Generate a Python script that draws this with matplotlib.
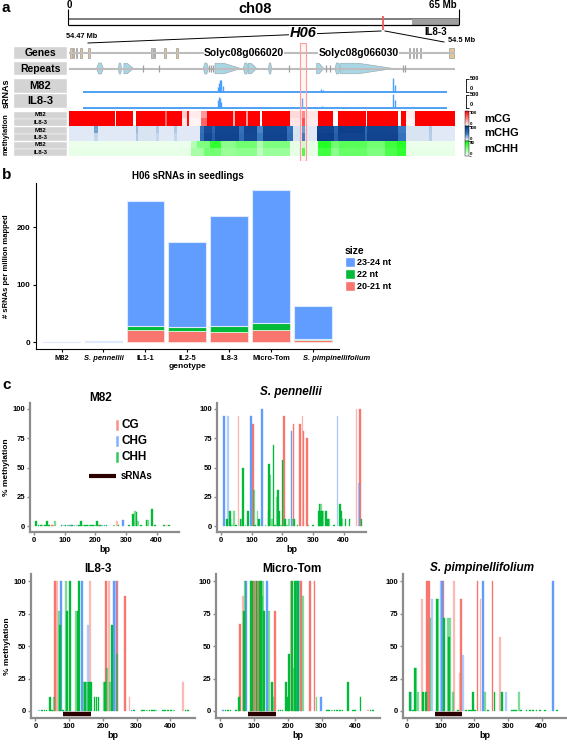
import numpy as np
import matplotlib
matplotlib.use("Agg")
import matplotlib.pyplot as plt
import matplotlib.transforms as mtransforms
from matplotlib.patches import Rectangle, Polygon, Patch
from matplotlib.colors import LinearSegmentedColormap

plt.rcParams['font.family'] = ['Liberation Sans', 'DejaVu Sans']
plt.rcParams['font.weight'] = 'bold'
plt.rcParams['axes.labelweight'] = 'bold'

W, H = 567, 744

# ---------------- panel a data ----------------
CHR_LEN = 65
H06_MB = 52.4
IL83_START_MB = 57.2
REGION_KB = 30
H06_KB = (17.95, 18.4)

# gene parts (start kb, end kb, kind)
GENE_PARTS = [(0.08, 0.20, 'exon'), (0.28, 0.40, 'exon'), (0.54, 0.66, 'exon'), (0.85, 0.99, 'exon'),
              (1.50, 1.62, 'exon'), (6.40, 6.50, 'utr'), (6.58, 6.68, 'utr'), (7.42, 7.54, 'exon'),
              (8.35, 8.50, 'exon'), (26.40, 26.50, 'utr'), (26.72, 26.82, 'utr'), (26.98, 27.08, 'utr'),
              (27.25, 27.35, 'utr'), (29.55, 29.95, 'exon')]
GENE_NAMES = [(13.6, 'Solyc08g066020'), (22.5, 'Solyc08g066030')]

# repeats (start kb, end kb, shape)
REPEATS = [(2.15, 2.67, 'both'), (3.83, 4.09, 'both'), (4.27, 5.0, 'right'), (5.73, 5.73, 'thin'),
           (7.02, 7.02, 'thin'), (10.44, 10.83, 'both'), (10.9, 10.9, 'thin'), (11.05, 11.05, 'thin'),
           (11.2, 11.2, 'thin'), (11.35, 13.34, 'right'), (13.55, 13.94, 'both'), (13.94, 14.59, 'right'),
           (15.5, 15.75, 'both'), (17.12, 17.12, 'thin'), (19.25, 19.8, 'right'), (20.0, 20.0, 'thin'),
           (20.3, 20.3, 'thin'), (20.67, 21.06, 'both'), (21.06, 25.2, 'right'), (25.98, 25.98, 'thin'),
           (26.15, 26.15, 'thin')]

# sRNA coverage peaks (kb, reads)
SRNA_SPAN = (1.1, 29.35)
SRNA_M82 = [(11.55, 184), (11.65, 342), (11.75, 447), (11.85, 474), (11.95, 237), (19.6, 130),
            (19.75, 80), (21.6, 50), (22.0, 40), (22.4, 55), (22.9, 45), (25.2, 540), (25.3, 276)]
SRNA_IL83 = [(11.55, 300), (11.65, 408), (11.75, 368), (11.85, 237), (18.1, 355), (19.7, 65),
             (21.6, 40), (22.2, 35), (22.9, 40), (25.2, 540), (25.3, 300)]

# methylation heatmap segments (start kb, end kb, %)
CG_M82 = [(0, 3.6, 100), (3.7, 5.0, 100), (5.2, 7.5, 100), (7.5, 7.6, 60), (7.6, 8.8, 100),
          (8.8, 9.2, 20), (9.2, 9.35, 95), (9.35, 10.3, 8), (10.3, 10.75, 40), (10.75, 12.8, 100),
          (12.8, 12.9, 30), (12.9, 13.8, 100), (13.8, 13.9, 40), (13.9, 14.85, 100), (15.0, 17.2, 100),
          (17.2, 18.1, 15), (18.1, 18.4, 50), (18.4, 19.4, 10), (19.4, 20.5, 100), (20.9, 23.1, 100),
          (23.2, 25.6, 100), (25.85, 26.2, 100), (26.2, 26.9, 8), (26.9, 30, 100)]
CG_IL83 = [(0, 3.6, 100), (3.7, 5.0, 100), (5.2, 7.5, 100), (7.5, 7.6, 60), (7.6, 8.8, 100),
           (8.8, 9.2, 10), (9.2, 9.35, 95), (9.35, 10.3, 5), (10.3, 10.75, 60), (10.75, 12.8, 100),
           (12.8, 12.9, 30), (12.9, 13.8, 100), (13.8, 13.9, 40), (13.9, 14.85, 100), (15.0, 17.2, 100),
           (17.2, 18.1, 10), (18.1, 18.4, 75), (18.4, 19.4, 8), (19.4, 20.5, 100), (20.9, 23.1, 100),
           (23.2, 25.6, 100), (25.85, 26.2, 100), (26.2, 26.9, 5), (26.9, 30, 100)]
CHG_M82 = [(0, 2.0, 8), (2.0, 2.3, 35), (2.3, 5.2, 8), (5.2, 5.4, 25), (5.4, 6.8, 10), (6.8, 7.0, 20),
           (7.0, 8.2, 8), (8.2, 8.4, 20), (8.4, 10.2, 8), (10.2, 10.5, 55), (10.5, 11.1, 85),
           (11.1, 11.4, 65), (11.4, 13.2, 90), (13.2, 13.6, 55), (13.6, 14.6, 90), (14.6, 15.1, 45),
           (15.1, 17.0, 90), (17.0, 17.4, 55), (17.4, 18.1, 10), (18.1, 18.4, 40), (18.4, 19.3, 8),
           (19.3, 20.6, 92), (20.6, 20.9, 65), (20.9, 23.0, 95), (23.0, 23.2, 60), (23.2, 25.6, 90),
           (25.6, 26.2, 50), (26.2, 28.0, 10), (28.0, 28.2, 20), (28.2, 30, 8)]
CHG_IL83 = [(0, 2.0, 8), (2.0, 2.3, 15), (2.3, 5.2, 8), (5.2, 5.4, 20), (5.4, 6.8, 10), (6.8, 7.0, 15),
            (7.0, 8.2, 8), (8.2, 8.4, 15), (8.4, 10.2, 8), (10.2, 10.5, 60), (10.5, 11.1, 90),
            (11.1, 11.4, 70), (11.4, 13.2, 92), (13.2, 13.6, 60), (13.6, 14.6, 88), (14.6, 15.1, 50),
            (15.1, 17.0, 92), (17.0, 17.4, 60), (17.4, 18.1, 10), (18.1, 18.4, 60), (18.4, 19.3, 8),
            (19.3, 20.6, 95), (20.6, 20.9, 70), (20.9, 23.0, 92), (23.0, 23.2, 65), (23.2, 25.6, 92),
            (25.6, 26.2, 55), (26.2, 28.0, 10), (28.0, 28.2, 18), (28.2, 30, 8)]
CHH_M82 = [(0, 9.5, 3), (9.5, 10.0, 12), (10.0, 11.0, 20), (11.0, 11.8, 32), (11.8, 13.0, 18),
           (13.0, 14.6, 22), (14.6, 15.1, 12), (15.1, 17.2, 20), (17.2, 18.1, 4), (18.1, 18.4, 8),
           (18.4, 19.4, 4), (19.4, 20.4, 34), (20.4, 21.0, 22), (21.0, 23.2, 26), (23.2, 24.6, 22),
           (24.6, 25.5, 30), (25.5, 26.2, 34), (26.2, 30, 3)]
CHH_IL83 = [(0, 9.5, 4), (9.5, 10.5, 14), (10.5, 11.8, 22), (11.8, 13.0, 16), (13.0, 14.6, 18),
            (14.6, 15.1, 10), (15.1, 17.2, 16), (17.2, 18.1, 4), (18.1, 18.4, 30), (18.4, 19.4, 4),
            (19.4, 20.4, 30), (20.4, 21.0, 18), (21.0, 23.2, 24), (23.2, 24.6, 20), (24.6, 25.5, 28),
            (25.5, 26.2, 32), (26.2, 30, 4)]

# ---------------- panel b data ----------------
GENOTYPES = ['M82', 'S. pennellii', 'IL1-1', 'IL2-5', 'IL8-3', 'Micro-Tom', 'S. pimpinellifolium']
NT_20_21 = [0, 0, 22, 20, 18, 21, 4]
NT_22 = [0, 0, 7, 7, 11, 12, 2]
NT_23_24 = [0, 1.5, 217, 147, 191, 232, 57]

# ---------------- panel c data ----------------
# (bp, % methylation, context, light replicate)
M82_METH = [(7, 4, 'CHH', 0), (15, 1, 'CHH', 0), (22, 1, 'CHH', 0), (28, 1, 'CHH', 1), (35, 1, 'CHH', 0),
            (43, 4, 'CHH', 0), (50, 1, 'CHH', 0), (58, 1, 'CG', 0), (62, 1, 'CG', 1), (68, 4, 'CHH', 1),
            (90, 1, 'CHH', 0), (97, 1, 'CHG', 1), (103, 1, 'CHH', 0), (110, 1, 'CHH', 1), (118, 1, 'CHG', 0),
            (125, 1, 'CHH', 0), (132, 1, 'CHH', 1), (140, 1, 'CHG', 1), (147, 1, 'CHH', 0), (153, 4, 'CHH', 0),
            (160, 1, 'CHH', 1), (167, 1, 'CHH', 0), (173, 1, 'CHH', 0), (180, 1, 'CHH', 1), (187, 1, 'CHH', 0),
            (193, 1, 'CHH', 0), (200, 1, 'CHH', 1), (205, 4, 'CHH', 0), (210, 1, 'CG', 0), (215, 1, 'CHH', 0),
            (222, 1, 'CHH', 1), (230, 1, 'CHG', 0), (237, 1, 'CHH', 0), (262, 1, 'CHH', 1), (270, 4, 'CG', 1),
            (276, 1, 'CHH', 0), (291, 5, 'CHG', 0), (310, 1, 'CHH', 0), (322, 10, 'CHH', 0), (330, 13, 'CHH', 1),
            (334, 12, 'CHH', 0), (340, 4, 'CHH', 1), (350, 1, 'CHH', 0), (367, 5, 'CHH', 0), (372, 5, 'CHH', 1),
            (386, 14.5, 'CHH', 0), (395, 1, 'CHH', 0), (425, 1, 'CHH', 0), (432, 1, 'CG', 1), (440, 1, 'CHH', 0)]
SPEN_METH = [(9, 94, 'CHG', 0), (19, 6.5, 'CHH', 0), (23, 94, 'CHG', 1), (29, 12.5, 'CHH', 0), (31, 6.5, 'CHH', 0),
             (36, 1, 'CHH', 1), (43, 12.5, 'CHH', 1), (50, 1, 'CHH', 0), (57, 94, 'CG', 1), (64, 6.5, 'CHH', 0),
             (67, 6.5, 'CHH', 1), (72, 50, 'CHH', 0), (80, 1, 'CHH', 1), (89, 12.5, 'CHH', 0), (98, 94, 'CHG', 0),
             (104, 87.5, 'CG', 0), (107, 31, 'CHH', 1), (112, 1, 'CHH', 0), (119, 12.5, 'CHH', 1),
             (124, 6.5, 'CHH', 0), (133, 100, 'CHG', 0), (145, 1, 'CHH', 1), (155, 12.5, 'CHH', 0),
             (157, 53, 'CHH', 0), (162, 44, 'CHH', 1), (166, 6.5, 'CHH', 1), (171, 69, 'CHH', 0),
             (177, 1, 'CHH', 0), (182, 25, 'CHH', 1), (185, 31, 'CHH', 0), (189, 12.5, 'CHH', 0),
             (195, 1, 'CHH', 1), (201, 56.5, 'CHH', 0), (206, 94, 'CG', 0), (209, 6.5, 'CHH', 0),
             (215, 1, 'CHH', 1), (222, 6.5, 'CHH', 1), (230, 81.5, 'CHG', 0), (234, 6.5, 'CHH', 1),
             (237, 87.5, 'CG', 0), (240, 6.5, 'CHH', 0), (250, 1, 'CHH', 0), (258, 87.5, 'CG', 0),
             (266, 94, 'CG', 1), (269, 81.5, 'CG', 0), (280, 75, 'CG', 0), (285, 1, 'CHH', 1), (300, 1, 'CHH', 0),
             (318, 12.5, 'CHH', 0), (321, 19, 'CHH', 0), (324, 12.5, 'CHH', 0), (327, 19, 'CHH', 1),
             (330, 12.5, 'CHH', 0), (333, 12.5, 'CHH', 1), (342, 12.5, 'CHH', 0), (348, 6.5, 'CHH', 0),
             (353, 6.5, 'CHH', 1), (368, 1, 'CHH', 0), (380, 94, 'CHG', 1), (389, 19, 'CHH', 0),
             (392, 12.5, 'CHH', 0), (395, 6.5, 'CHH', 1), (406, 6.5, 'CHH', 0), (419, 6.5, 'CHH', 0),
             (442, 100, 'CG', 1), (451, 37, 'CHG', 1), (454, 100, 'CG', 0), (458, 6.5, 'CHH', 0)]
IL83_METH = [(10, 1, 'CHG', 1), (20, 1, 'CHH', 0), (27, 1, 'CHH', 0), (33, 1, 'CHH', 0), (44, 11, 'CHH', 0),
             (49, 1, 'CHH', 0), (55, 11, 'CHH', 1), (57, 100, 'CG', 0), (65, 100, 'CG', 1), (69, 77, 'CHH', 1),
             (72, 66.5, 'CHH', 0), (76, 100, 'CHG', 0), (81, 1, 'CHH', 0), (90, 100, 'CHH', 1), (94, 77, 'CHH', 0),
             (102, 100, 'CHH', 0), (121, 77, 'CHH', 1), (125, 77, 'CHH', 0), (130, 100, 'CHH', 0),
             (137, 100, 'CHG', 0), (143, 22, 'CHH', 1), (147, 22, 'CHH', 0), (153, 22, 'CHH', 1),
             (156, 66.5, 'CHG', 1), (158, 22, 'CHH', 0), (162, 100, 'CG', 1), (165, 22, 'CHH', 0),
             (175, 11, 'CHH', 0), (181, 11, 'CHH', 0), (187, 11, 'CHH', 0), (203, 22, 'CHH', 1),
             (206, 22, 'CHH', 0), (210, 100, 'CG', 0), (213, 33, 'CHH', 1), (218, 100, 'CG', 1),
             (222, 22, 'CHH', 1), (227, 66.5, 'CHH', 0), (234, 100, 'CHG', 0), (238, 100, 'CHG', 1),
             (241, 100, 'CG', 0), (243, 44, 'CHH', 1), (266, 89, 'CG', 0), (279, 11, 'CG', 1), (285, 1, 'CHG', 0),
             (292, 1, 'CHH', 0), (315, 1, 'CHH', 0), (322, 1, 'CHH', 0), (330, 1, 'CHH', 1), (338, 1, 'CHH', 0),
             (345, 1, 'CHH', 0), (352, 1, 'CHH', 0), (358, 1, 'CHH', 1), (378, 1, 'CHH', 0), (385, 1, 'CHH', 0),
             (393, 1, 'CHH', 0), (402, 1, 'CHH', 0), (412, 1, 'CHH', 1), (438, 22, 'CG', 1), (445, 1, 'CHH', 0),
             (452, 1, 'CHH', 0)]
MT_METH = [(8, 1, 'CHG', 0), (15, 1, 'CHH', 0), (22, 1, 'CHH', 0), (30, 1, 'CHH', 0), (45, 1, 'CHH', 0),
           (56, 11, 'CHH', 0), (58, 67, 'CG', 0), (66, 89, 'CG', 1), (71, 77, 'CHH', 0), (72, 100, 'CHH', 1),
           (76, 100, 'CHG', 0), (90, 100, 'CHH', 0), (94, 100, 'CHH', 0), (100, 100, 'CG', 0), (104, 100, 'CHH', 1),
           (107, 100, 'CHH', 0), (111, 100, 'CG', 0), (117, 100, 'CHH', 0), (121, 100, 'CHH', 0),
           (123, 89, 'CHH', 1), (127, 100, 'CHH', 1), (130, 77, 'CHH', 0), (138, 100, 'CHG', 0),
           (144, 77, 'CHH', 1), (154, 22, 'CHH', 0), (157, 11, 'CHH', 1), (162, 77, 'CG', 0), (172, 1, 'CHH', 0),
           (178, 1, 'CHH', 0), (184, 1, 'CHH', 0), (194, 22, 'CHH', 0), (201, 11, 'CHH', 0), (204, 44, 'CHH', 0),
           (210, 100, 'CG', 1), (213, 100, 'CHH', 0), (217, 33, 'CHH', 1), (222, 100, 'CHH', 0),
           (225, 100, 'CHH', 1), (228, 100, 'CHG', 0), (231, 100, 'CHH', 0), (234, 100, 'CHG', 1),
           (239, 100, 'CG', 0), (244, 89, 'CHH', 1), (266, 100, 'CG', 0), (279, 100, 'CG', 0), (285, 11, 'CHH', 1),
           (297, 11, 'CHG', 0), (315, 1, 'CHH', 0), (322, 1, 'CHH', 0), (330, 1, 'CHH', 1), (338, 1, 'CHH', 0),
           (346, 1, 'CHH', 0), (354, 1, 'CHH', 0), (362, 1, 'CHH', 0), (378, 22, 'CHH', 0), (392, 1, 'CHH', 0),
           (400, 1, 'CHH', 0), (415, 11, 'CHH', 0), (437, 1, 'CG', 1), (445, 1, 'CHH', 0), (452, 1, 'CHH', 0)]
SPIMP_METH = [(7, 14.3, 'CHH', 0), (10, 14.3, 'CHG', 1), (17, 1, 'CHH', 0), (23, 33.5, 'CHH', 0),
              (27, 33.5, 'CHH', 1), (31, 14.3, 'CHH', 1), (43, 86, 'CG', 1), (47, 14.3, 'CHH', 0),
              (55, 14.3, 'CHH', 0), (58, 100, 'CG', 0), (65, 100, 'CG', 0), (69, 71.5, 'CHH', 1),
              (73, 86, 'CHG', 1), (88, 86, 'CHH', 0), (91, 86, 'CHH', 1), (101, 100, 'CHG', 1),
              (103, 100, 'CHG', 0), (106, 100, 'CG', 0), (109, 71.5, 'CHH', 0), (121, 71.5, 'CHH', 1),
              (124, 57, 'CHH', 0), (127, 71.5, 'CHH', 1), (135, 14.3, 'CHH', 1), (138, 100, 'CG', 1),
              (150, 1, 'CHH', 0), (156, 29, 'CG', 1), (161, 86, 'CG', 0), (166, 43, 'CHG', 1), (176, 1, 'CHH', 0),
              (183, 1, 'CHH', 0), (190, 1, 'CHH', 0), (195, 14.3, 'CHH', 0), (202, 1, 'CHH', 0),
              (209, 100, 'CG', 0), (218, 86, 'CG', 1), (225, 100, 'CHG', 0), (231, 14.3, 'CHH', 1),
              (240, 1, 'CHH', 0), (254, 100, 'CG', 0), (260, 14.3, 'CHH', 0), (276, 57, 'CG', 1),
              (281, 14.3, 'CHH', 0), (293, 14.3, 'CHG', 1), (312, 1, 'CHH', 0), (318, 1, 'CHH', 0),
              (325, 1, 'CHH', 0), (332, 14.3, 'CHH', 1), (340, 1, 'CHH', 0), (355, 1, 'CHH', 0),
              (365, 1, 'CHH', 0), (375, 1, 'CHH', 0), (385, 1, 'CHH', 0), (395, 1, 'CHH', 0), (410, 1, 'CHH', 0),
              (433, 100, 'CHG', 0), (445, 1, 'CHH', 0)]
SRNA_BP = (83, 164)

CTX_COLORS = {'CG': '#F8766D', 'CHG': '#619CFF', 'CHH': '#00BA38'}

fig = plt.figure(figsize=(W / 100, H / 100), dpi=100)


def px_ax(x0, y0, x1, y1):
    return fig.add_axes([x0 / W, 1 - y1 / H, (x1 - x0) / W, (y1 - y0) / H])


ov = px_ax(0, 0, W, H)
ov.set_xlim(0, W)
ov.set_ylim(H, 0)
ov.axis('off')
ov.set_zorder(10)

# ===== panel a =====
ov.text(2, 1, 'a', fontsize=11, va='top')
ch = px_ax(68, 14, 459, 32)
ch.set_xlim(0, CHR_LEN)
ch.set_ylim(0, 1)
ch.axis('off')
ch.add_patch(Rectangle((0, 0.39), CHR_LEN, 0.33, fc='white', lw=0))
ch.add_patch(Rectangle((0, 0.667), CHR_LEN, 0.09, fc='#7F7F7F', lw=0))
ch.add_patch(Rectangle((IL83_START_MB, 0.39), CHR_LEN - IL83_START_MB, 0.32, fc='#9E9E9E', lw=0))
ch.hlines(0.39, 0, CHR_LEN, color='black', lw=0.9)
ch.vlines([0, CHR_LEN], 0.39, 1.3, color='black', lw=0.8, clip_on=False)
ch.vlines(H06_MB, 0.11, 0.89, color='#F0595A', lw=1.3)

ov.text(69, 5, '0', fontsize=7, ha='center', va='center')
ov.text(255, 9, 'ch08', fontsize=10.5, ha='center', va='center')
ov.text(443, 5, '65 Mb', fontsize=7, ha='center', va='center')
ov.text(436, 32, 'IL8-3', fontsize=7, ha='center', va='center')
ov.text(82, 36, '54.47 Mb', fontsize=5.3, ha='center', va='center')
ov.text(462, 40, '54.5 Mb', fontsize=5.3, ha='center', va='center')
ov.plot([381, 88], [31, 43], color='black', lw=0.7)
ov.plot([385, 444], [31, 42], color='black', lw=0.7)
ov.text(303, 33, 'H06', fontsize=10.5, style='italic', ha='center', va='center',
        bbox=dict(fc='white', ec='none', pad=0.2))

# label boxes
for y0, y1, txt, fs in [(47, 59, 'Genes', 7.5), (62, 75, 'Repeats', 7.5), (79, 93, 'M82', 8),
                        (94, 108, 'IL8-3', 8), (111.5, 118.5, 'M82', 4.3), (119, 126, 'IL8-3', 4.3),
                        (126.5, 133.5, 'M82', 4.3), (134, 141, 'IL8-3', 4.3), (141.5, 148.5, 'M82', 4.3),
                        (149, 156, 'IL8-3', 4.3)]:
    ov.add_patch(Rectangle((14, y0), 53, y1 - y0, fc='#D4D4D4', ec='white', lw=0.3))
    ov.text(40.5, (y0 + y1) / 2, txt, fontsize=fs, ha='center', va='center')
ov.text(6, 93, 'sRNAs', fontsize=6.5, rotation=90, ha='center', va='center')
ov.text(6, 134, 'methylation', fontsize=5.3, rotation=90, ha='center', va='center')

# genes
gx = px_ax(69, 47, 455, 59)
gx.set_xlim(0, REGION_KB)
gx.set_ylim(0, 1)
gx.axis('off')
gx.hlines(0.5, 0, REGION_KB, color='#BDBDBD', lw=1.5)
for s, e, kind in GENE_PARTS:
    gx.add_patch(Rectangle((s, 0.08), e - s, 0.84, fc='#E6C594' if kind == 'exon' else '#C4C4C4',
                           ec='#9A9A9A', lw=0.5))
for xc, name in GENE_NAMES:
    gx.text(xc, 0.5, name, fontsize=7.5, ha='center', va='center',
            bbox=dict(fc='white', ec='none', pad=0.3))

# repeats
rx = px_ax(69, 62, 455, 75)
rx.set_xlim(0, REGION_KB)
rx.set_ylim(0, 1)
rx.axis('off')
rx.hlines(0.5, 0, REGION_KB, color='#BDBDBD', lw=1.5)
for s, e, shape in REPEATS:
    L = e - s
    if shape == 'thin':
        rx.vlines(s, 0.2, 0.8, color='#A0A0A0', lw=0.9)
        continue
    if shape == 'right':
        m = s + 0.35 * L
        pts = [(s, 0.1), (s, 0.9), (m, 0.9), (e, 0.5), (m, 0.1)]
    else:
        pts = [(s, 0.5), (s + 0.3 * L, 0.92), (e - 0.3 * L, 0.92), (e, 0.5), (e - 0.3 * L, 0.08),
               (s + 0.3 * L, 0.08)]
    rx.add_patch(Polygon(pts, closed=True, fc='#A9D6E5', ec='#9AAFB8', lw=0.5))

# sRNA tracks
for (y0, y1, ylim, peaks) in [(76, 93, (-38, 616), SRNA_M82), (92, 109, (-50, 604), SRNA_IL83)]:
    sx = px_ax(69, y0, 455, y1)
    sx.set_facecolor('none')
    sx.set_xlim(0, REGION_KB)
    sx.set_ylim(*ylim)
    for sp in ['top', 'left', 'bottom']:
        sx.spines[sp].set_visible(False)
    sx.spines['right'].set_position(('axes', 1.028))
    sx.spines['right'].set_bounds(0, 500)
    sx.spines['right'].set_linewidth(0.6)
    sx.set_xticks([])
    sx.yaxis.tick_right()
    sx.set_yticks([0, 500])
    sx.set_yticklabels([])
    sx.tick_params(axis='y', length=2, width=0.6)
    # scale labels sit inside the bar's span, as in the figure
    ov.text(470, y1 - 14, '500', fontsize=4, ha='left', va='center')
    ov.text(470, y1 - 4.5, '0', fontsize=4, ha='left', va='center')
    sx.hlines(0, *SRNA_SPAN, color='#1E88F0', lw=1.1)
    pos = [p for p, v in peaks]
    val = [v for p, v in peaks]
    sx.vlines(pos, 0, val, color='#4AA0FF', lw=1.0)

# heatmaps


def seg_row(segs, n=772):
    row = np.zeros(n)
    edges = np.linspace(0, REGION_KB, n + 1)
    mid = (edges[:-1] + edges[1:]) / 2
    for s, e, v in segs:
        row[(mid >= s) & (mid < e)] = v
    return row


heat_specs = [(111, 126, CG_M82, CG_IL83, ['#FFFFFF', '#FF0000'], 100, 'mCG'),
              (126, 141, CHG_M82, CHG_IL83, ['#FFFFFF', '#3A78C0', '#0A3A85'], 100, 'mCHG'),
              (141, 156, CHH_M82, CHH_IL83, ['#FFFFFF', '#00FF00'], 40, 'mCHH')]
for y0, y1, seg_a, seg_b, cols, vmax, lab in heat_specs:
    hx = px_ax(69, y0, 455, y1)
    cmap = LinearSegmentedColormap.from_list(lab, cols)
    im = hx.imshow(np.vstack([seg_row(seg_a), seg_row(seg_b)]), aspect='auto', cmap=cmap,
                   vmin=0, vmax=vmax, extent=(0, REGION_KB, 2, 0), interpolation='nearest')
    hx.axis('off')
    cax = px_ax(465, y0, 469, y1)
    cb = fig.colorbar(im, cax=cax, ticks=[0, vmax])
    cb.outline.set_linewidth(0.3)
    cax.set_yticklabels([])
    cax.tick_params(length=1.2, width=0.4)
    ov.text(470, y0 + 2.2, str(vmax), fontsize=3.2, ha='left', va='center')
    ov.text(470, y1 - 2.4, '0', fontsize=3.2, ha='left', va='center')
    ov.text(484, (y0 + y1) / 2, lab, fontsize=8, ha='left', va='center')

hl = px_ax(69, 43, 455, 161)
hl.set_xlim(0, REGION_KB)
hl.set_ylim(0, 1)
hl.axis('off')
hl.set_zorder(6)
hl.add_patch(Rectangle((H06_KB[0], 0.0), H06_KB[1] - H06_KB[0], 1.0, fc=(1, 0.75, 0.75, 0.15),
                       ec='#FF9C9C', lw=0.8))

# ===== panel b =====
ov.text(2, 168, 'b', fontsize=11, va='top')
ov.text(188, 176, 'H06 sRNAs in seedlings', fontsize=7, ha='center', va='center')
bx = px_ax(36, 183, 339, 349)
xs = np.arange(len(GENOTYPES))
b1 = np.array(NT_20_21)
b2 = b1 + np.array(NT_22)
bx.bar(xs, NT_20_21, 0.9, color='#F8766D', ec='#FDE3E0', lw=0.6)
bx.bar(xs, NT_22, 0.9, bottom=b1, color='#00BA38', ec='#D9F5E0', lw=0.6)
bx.bar(xs, NT_23_24, 0.9, bottom=b2, color='#619CFF', ec='#DDE9FF', lw=0.8)
bx.set_xlim(-0.61, 6.62)
bx.set_ylim(-11.7, 277.5)
bx.spines['top'].set_visible(False)
bx.spines['right'].set_visible(False)
bx.set_yticks([0, 100, 200])
bx.set_xticks(xs)
bx.set_xticklabels(GENOTYPES)
bx.tick_params(axis='y', labelsize=5.8, length=2, width=0.8, pad=2)
bx.tick_params(axis='x', labelsize=5.4, length=2, width=0.8, pad=2)
shift = mtransforms.ScaledTranslation(0.24, 0, fig.dpi_scale_trans)
for t in bx.get_xticklabels():
    if t.get_text().startswith('S.'):
        t.set_style('italic')
    if t.get_text() == 'S. pimpinellifolium':
        t.set_transform(t.get_transform() + shift)
bx.set_xlabel('genotype', fontsize=6, labelpad=1)
bx.set_ylabel('# sRNAs per million mapped', fontsize=5.5, labelpad=5)
handles = [Patch(fc='#619CFF', ec='white', label='23-24 nt'), Patch(fc='#00BA38', ec='white', label='22 nt'),
           Patch(fc='#F8766D', ec='white', label='20-21 nt')]
bx.legend(handles=handles, title='size', loc='upper left', bbox_to_anchor=(341 / W, 1 - 242 / H),
          bbox_transform=fig.transFigure, fontsize=6.5, title_fontsize=7.5, frameon=False,
          handlelength=1.1, handleheight=1.4, handletextpad=0.25, labelspacing=0.15,
          alignment='left', borderaxespad=0)

# ===== panel c =====
ov.text(2, 378, 'c', fontsize=11, va='top')
panels = [('M82', M82_METH, (30, 403, 179, 532), (-5, 105), (101, 398), False, True),
          ('S. pennellii', SPEN_METH, (217, 403, 366, 532), (-5, 105), (291, 392), False, False),
          ('IL8-3', IL83_METH, (31, 574, 195, 718), (-5.4, 105.6), (98, 569), True, True),
          ('Micro-Tom', MT_METH, (216, 574, 380, 718), (-5.4, 105.6), (292, 569), True, False),
          ('S. pimpinellifolium', SPIMP_METH, (403, 574, 566, 718), (-5.4, 105.6), (482, 568), True, False)]
for title, recs, box, ylim, tpos, has_srna, ylab in panels:
    ax = px_ax(*box)
    ax.set_facecolor('none')
    for ctx in ['CG', 'CHG', 'CHH']:
        for light in (0, 1):
            sel = [(p, v) for p, v, c, lt in recs if c == ctx and lt == light]
            if not sel:
                continue
            ax.bar([p for p, v in sel], [v for p, v in sel], width=5.5, color=CTX_COLORS[ctx],
                   alpha=0.45 if light else 1.0, lw=0.25, ec=CTX_COLORS[ctx])
    if has_srna:
        ax.plot(SRNA_BP, [-2.4, -2.4], color='#2B0000', lw=3.2, solid_capstyle='butt')
    ax.set_xlim(-13, 473)
    ax.set_ylim(*ylim)
    for sp in ['top', 'right']:
        ax.spines[sp].set_visible(False)
    for sp in ['left', 'bottom']:
        ax.spines[sp].set_color('#8C8C8C')
        ax.spines[sp].set_linewidth(1.6)
    ax.set_xticks([0, 100, 200, 300, 400])
    ax.set_yticks([0, 25, 50, 75, 100])
    ax.tick_params(labelsize=5.5, length=2, width=1, color='#8C8C8C', pad=1.5)
    ax.set_xlabel('bp', fontsize=6.5, labelpad=1)
    if ylab:
        ax.set_ylabel('% methylation', fontsize=6, labelpad=2)
    ov.text(tpos[0], tpos[1], title, fontsize=8.5, ha='center', va='center',
            style='italic' if title.startswith('S.') else 'normal')

# legend inside M82 panel
for yy, ctx in [(425, 'CG'), (441, 'CHG'), (457, 'CHH')]:
    ov.plot([117, 117], [yy - 4, yy + 4], color=CTX_COLORS[ctx], lw=1.8, alpha=0.8)
    ov.text(121.5, yy, ctx, fontsize=8.5, ha='left', va='center')
ov.plot([89, 116], [476, 476], color='#2B0000', lw=3.0, solid_capstyle='butt')
ov.text(121, 476, 'sRNAs', fontsize=7, ha='left', va='center')

fig.savefig('out.png', dpi=100)
